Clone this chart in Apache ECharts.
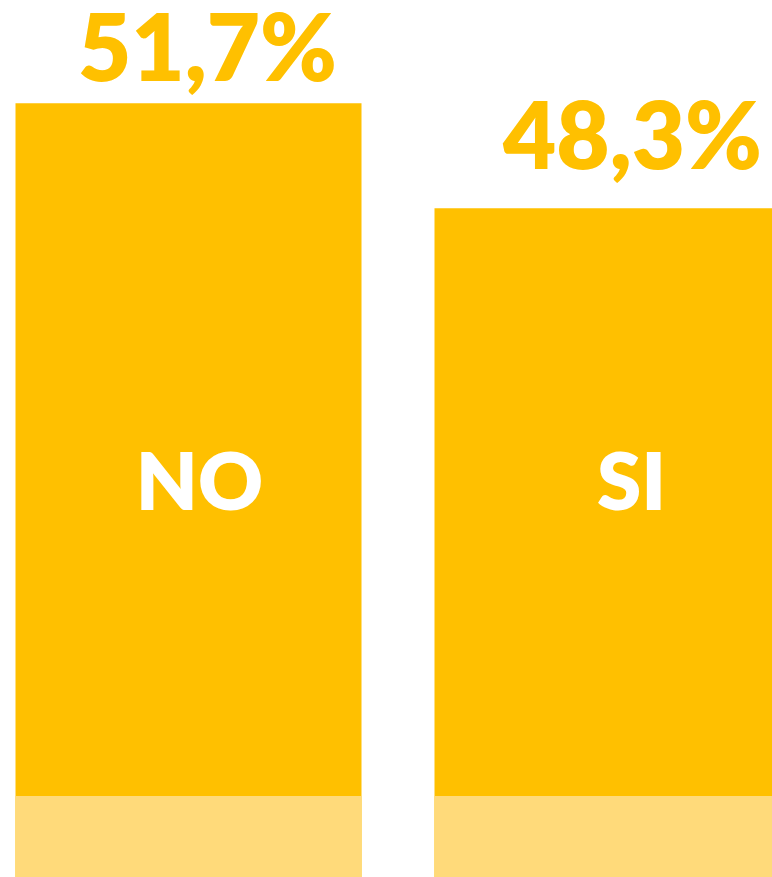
<!DOCTYPE html>
<html>
<head>
<meta charset="utf-8">
<script src="https://cdn.jsdelivr.net/npm/echarts@6/dist/echarts.min.js"></script>
<style>
  html, body { margin: 0; padding: 0; background: #fff; }
  #main { width: 772px; height: 877px; }
</style>
</head>
<body>
<div id="main"></div>
<script>
// data
let categories = ['NO', 'SI']
let percent = [51.7, 48.3]
// level of the light band at the foot of each bar
let baseBand = [29.26, 29.26]

// nudges of the labels, as in the picture
let valueShift = [[19, -1], [25, -18]]
let nameShift = [[11, 0], [24, 0]]

let chart = echarts.init(document.getElementById('main'))

let option = {
    animation: false,
    grid: {
        left: -21,
        width: 838,
        top: 0,
        bottom: 0,
        outerBoundsMode: 'none',
        containLabel: false
    },
    xAxis: {
        type: 'category',
        data: categories,
        show: false
    },
    yAxis: {
        type: 'value',
        min: 26.64,
        max: 55.04,
        show: false
    },
    series: [
        {
            name: 'valore',
            type: 'bar',
            barWidth: 346,
            data: percent.map((v, i) => ({ value: v, label: { offset: valueShift[i] } })),
            silent: true,
            itemStyle: { color: '#FFC000' },
            label: {
                show: true,
                position: 'top',
                distance: 5,
                color: '#FFC000',
                fontFamily: 'Lato',
                fontWeight: 800,
                fontSize: 92,
                lineHeight: 92,
                formatter: p => p.value.toFixed(1).replace('.', ',') + '%'
            }
        },
        {
            name: 'base',
            type: 'bar',
            barWidth: 346,
            barGap: '-100%',
            data: baseBand.map((v, i) => ({ value: v, label: { offset: nameShift[i] } })),
            silent: true,
            z: 3,
            itemStyle: { color: '#FFDA7A' },
            label: {
                show: true,
                position: 'top',
                distance: 272,
                color: '#ffffff',
                fontFamily: 'Lato',
                fontWeight: 800,
                fontSize: 80,
                lineHeight: 80,
                formatter: p => categories[p.dataIndex]
            }
        }
    ]
}

chart.setOption(option)
</script>
</body>
</html>
